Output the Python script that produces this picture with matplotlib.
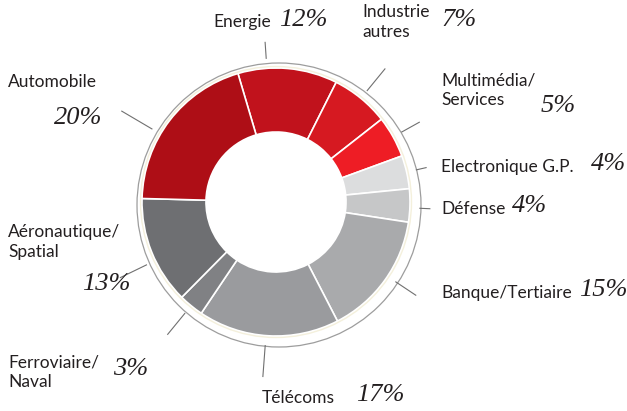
import matplotlib.pyplot as plt
import numpy as np
from matplotlib.patches import Circle

# secteurs, dans le sens horaire a partir de Energie
secteurs = ['Energie', 'Industrie\nautres', 'Multimédia/\nServices', 'Electronique G.P.',
            'Défense', 'Banque/Tertiaire', 'Télécoms', 'Ferroviaire/\nNaval',
            'Aéronautique/\nSpatial', 'Automobile']
parts = [12, 7, 5, 4, 4, 15, 17, 3, 13, 20]
couleurs = ['#c1121c', '#d61921', '#ee1d25', '#dcddde', '#c6c7c8',
            '#a9aaac', '#9a9b9e', '#808184', '#6e6f72', '#ae0e16']

# mise en page (pixels, y depuis le haut)
pos_label = [(213, 22), (362, 22), (441, 90), (441, 167), (441, 209),
             (441, 293), (262, 398), (8, 372), (8, 242), (8, 82)]
pos_pct = [(279, 20), (441, 20), (541, 106), (591, 164), (512, 206),
           (579, 290), (356, 395), (113, 369), (82, 284), (54, 118)]
decalage = [9, 0, 0, 0, -1, 2, -1, 0, 4, 7]  # ecart du trait / milieu du secteur
longueur = [16, 28, 20, 10, 10, 24, 31, 27, 29, 35]

W, H = 627, 411
cx, cy, R, r_in = 276, H - 202, 134, 70

fig = plt.figure(figsize=(6.27, 4.11), dpi=100)
ax = fig.add_axes([0, 0, 1, 1])

start = 106.5
wedges, _ = ax.pie(parts, colors=couleurs, radius=R, center=(cx, cy),
                   startangle=start, counterclock=False,
                   wedgeprops=dict(width=R - r_in, edgecolor='white', linewidth=1.2))
ax.set_xlim(0, W)
ax.set_ylim(0, H)
ax.set_aspect('equal')
ax.axis('off')

# anneau exterieur
ax.add_patch(Circle((cx, cy), R + 1.5, facecolor='none', edgecolor='#f4f0dc', lw=1.0))
ax.add_patch(Circle((cx + 3, cy - 3), 142, facecolor='none', edgecolor='#9d9d9d', lw=0.9))

# traits de rappel
cum = np.cumsum([0] + parts)
for i, p in enumerate(parts):
    mid = start - 3.6 * (cum[i] + p / 2) + decalage[i]
    a = np.deg2rad(mid)
    r0 = 144
    r1 = r0 + longueur[i]
    ax.plot([cx + r0 * np.cos(a), cx + r1 * np.cos(a)],
            [cy + r0 * np.sin(a), cy + r1 * np.sin(a)], color='#707070', lw=0.8)

for i, nom in enumerate(secteurs):
    x, y = pos_label[i]
    ax.text(x, H - y, nom, ha='left', va='center', fontsize=12.5, family='Lato',
            color='#231f20', linespacing=1.25)
    px, py = pos_pct[i]
    ax.text(px, H - py, f'{parts[i]}%', ha='left', va='center', fontsize=19,
            family='Liberation Serif', style='italic', color='#231f20')

fig.savefig('out.png', dpi=100)
